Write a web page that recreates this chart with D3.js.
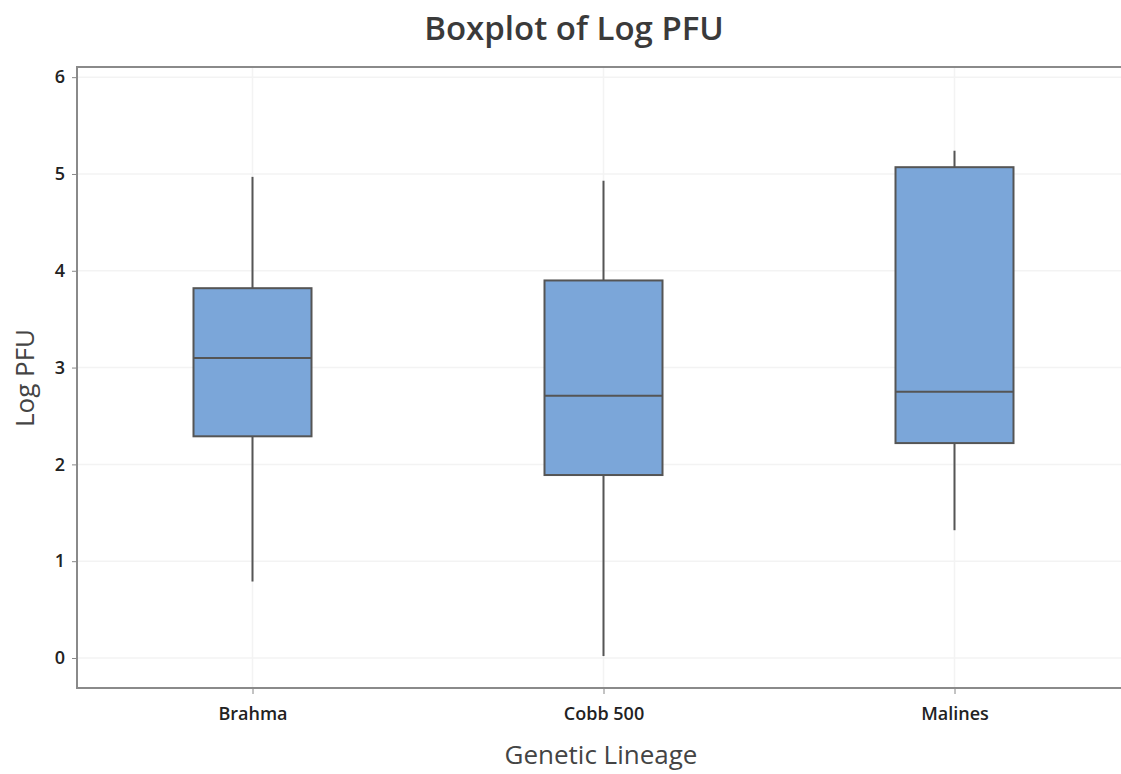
<!DOCTYPE html>
<html>
<head>
<meta charset="utf-8">
<script src="https://cdn.jsdelivr.net/npm/d3@7"></script>
<style>
  body { margin: 0; background: #fff; }
  text { font-family: "Open Sans", "Noto Sans", sans-serif; }
</style>
</head>
<body>
<div id="chart"></div>
<script>
// lineage groups and their box summaries
const lineages = ['Brahma', 'Cobb 500', 'Malines'];
const whiskerLow = [0.79, 0.02, 1.32];
const q1 = [2.29, 1.89, 2.22];
const median = [3.10, 2.71, 2.75];
const q3 = [3.82, 3.90, 5.07];
const whiskerHigh = [4.97, 4.93, 5.24];
const yTicks = [0, 1, 2, 3, 4, 5, 6];

const width = 1121, height = 774;
const margin = { top: 67, right: -9, bottom: 86, left: 77 };
const iw = width - margin.left - margin.right;
const ih = height - margin.top - margin.bottom;

const boxes = lineages.map((name, i) => ({
    name,
    lo: whiskerLow[i], q1: q1[i], med: median[i], q3: q3[i], hi: whiskerHigh[i]
}));

const svg = d3.select('#chart').append('svg')
    .attr('width', width)
    .attr('height', height);

const g = svg.append('g')
    .attr('transform', `translate(${margin.left},${margin.top})`);

const x = d3.scalePoint()
    .domain(lineages)
    .range([0, iw])
    .padding(0.5);

const y = d3.scaleLinear()
    .domain([-0.31, 6.105])
    .range([ih, 0]);

const boxW = 118;

// grid
g.selectAll('.hgrid')
    .data(yTicks)
    .enter().append('line')
    .attr('x1', 0).attr('x2', iw)
    .attr('y1', d => y(d)).attr('y2', d => y(d))
    .attr('stroke', '#f3f3f3').attr('stroke-width', 1.5);

g.selectAll('.vgrid')
    .data(lineages)
    .enter().append('line')
    .attr('x1', d => x(d)).attr('x2', d => x(d))
    .attr('y1', 0).attr('y2', ih)
    .attr('stroke', '#f3f3f3').attr('stroke-width', 1.5);

// axes
const yAxis = g.append('g')
    .call(d3.axisLeft(y).tickValues(yTicks).tickFormat(d3.format('d')).tickSize(5).tickPadding(7));
yAxis.select('.domain').remove();
yAxis.selectAll('line').attr('stroke', '#888');
yAxis.selectAll('text').attr('font-size', 18).attr('font-weight', 600).attr('fill', '#222');

const xAxis = g.append('g')
    .attr('transform', `translate(0,${ih})`)
    .call(d3.axisBottom(x).tickSize(6).tickPadding(13));
xAxis.select('.domain').remove();
xAxis.selectAll('line').attr('stroke', '#888');
xAxis.selectAll('text').attr('font-size', 18).attr('font-weight', 600).attr('fill', '#222');

// frame
g.append('rect')
    .attr('x', 0).attr('y', 0)
    .attr('width', iw).attr('height', ih)
    .attr('fill', 'none')
    .attr('stroke', '#8a8a8a').attr('stroke-width', 2);

// whiskers
const bx = g.selectAll('.box')
    .data(boxes)
    .enter().append('g')
    .attr('class', 'box');

bx.append('line')
    .attr('x1', d => x(d.name)).attr('x2', d => x(d.name))
    .attr('y1', d => y(d.hi)).attr('y2', d => y(d.q3))
    .attr('stroke', '#555').attr('stroke-width', 2);

bx.append('line')
    .attr('x1', d => x(d.name)).attr('x2', d => x(d.name))
    .attr('y1', d => y(d.q1)).attr('y2', d => y(d.lo))
    .attr('stroke', '#555').attr('stroke-width', 2);

bx.append('rect')
    .attr('x', d => x(d.name) - boxW / 2)
    .attr('y', d => y(d.q3))
    .attr('width', boxW)
    .attr('height', d => y(d.q1) - y(d.q3))
    .attr('fill', '#7ba6d9')
    .attr('stroke', '#555').attr('stroke-width', 2);

bx.append('line')
    .attr('x1', d => x(d.name) - boxW / 2).attr('x2', d => x(d.name) + boxW / 2)
    .attr('y1', d => y(d.med)).attr('y2', d => y(d.med))
    .attr('stroke', '#555').attr('stroke-width', 2);

// titles
svg.append('text')
    .attr('x', 574).attr('y', 40)
    .attr('text-anchor', 'middle')
    .attr('font-size', 33).attr('font-weight', 600)
    .attr('fill', '#3a3a3a')
    .text('Boxplot of Log PFU');

svg.append('text')
    .attr('x', 601).attr('y', 764)
    .attr('text-anchor', 'middle')
    .attr('font-size', 26).attr('font-weight', 500)
    .attr('fill', '#444')
    .text('Genetic Lineage');

svg.append('text')
    .attr('transform', 'translate(34,378) rotate(-90)')
    .attr('text-anchor', 'middle')
    .attr('font-size', 26).attr('font-weight', 500)
    .attr('fill', '#444')
    .text('Log PFU');
</script>
</body>
</html>
